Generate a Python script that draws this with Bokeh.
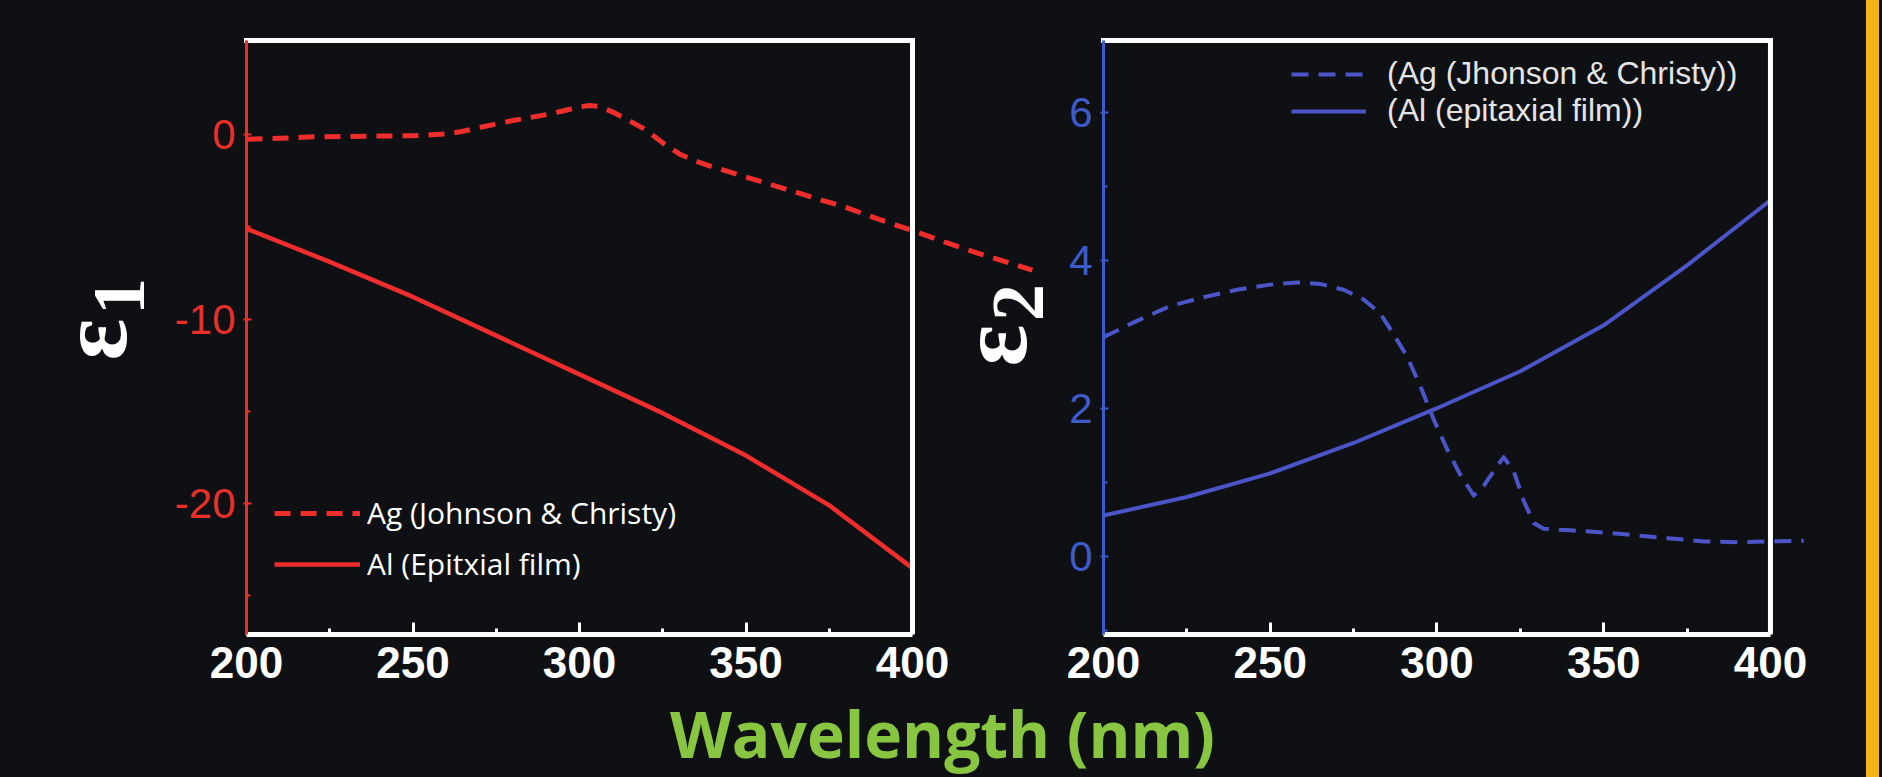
import math
from bokeh.plotting import figure
from bokeh.layouts import row, column
from bokeh.models import Range1d, LinearAxis, FixedTicker, Span, Legend, LegendItem, Label
from bokeh.embed import file_html
from bokeh.resources import INLINE

# ---------------- data ----------------
# epsilon_1 (left panel)
wl_ag1 = [200, 210, 220, 230, 240, 250, 260, 265, 270, 275, 280, 285, 290, 295, 300, 303, 306, 310, 315, 320,
          325, 330, 335, 340, 350, 360, 370, 380, 390, 400, 410, 420, 436]
eps1_ag = [-0.25, -0.2, -0.12, -0.1, -0.08, -0.06, 0.03, 0.18, 0.38, 0.58, 0.76, 0.92, 1.08, 1.28, 1.5, 1.58, 1.52,
           1.22, 0.75, 0.25, -0.45, -1.05, -1.45, -1.75, -2.3, -2.85, -3.4, -3.95, -4.6, -5.2, -5.85, -6.45, -7.35]
wl_al = [200, 225, 250, 275, 300, 325, 350, 375, 400]
eps1_al = [-5.1, -6.9, -8.8, -10.9, -13.0, -15.1, -17.4, -20.1, -23.5]

# epsilon_2 (right panel)
wl_ag2 = [200, 210, 220, 230, 240, 250, 258, 265, 272, 278, 283, 287, 291, 295, 299, 303, 307, 311, 314, 317,
          320, 323, 326, 329, 332, 340, 350, 360, 370, 380, 390, 400, 410]
eps2_ag = [2.96, 3.18, 3.38, 3.5, 3.6, 3.67, 3.70, 3.68, 3.6, 3.47, 3.28, 3.0, 2.7, 2.3, 1.85, 1.45, 1.1, 0.82,
           0.95, 1.15, 1.34, 1.15, 0.75, 0.45, 0.37, 0.35, 0.32, 0.28, 0.24, 0.2, 0.19, 0.2, 0.21]
eps2_al = [0.55, 0.8, 1.12, 1.53, 2.0, 2.5, 3.12, 3.93, 4.81]

x_ticks = [200, 250, 300, 350, 400]
x_minor = [225, 275, 325, 375]
e1_ticks = [-20, -10, 0]
e1_minor = [-25, -15, -5]
e2_ticks = [0, 2, 4, 6]
e2_minor = [-1, 1, 3, 5]

labels1 = ["Ag (Johnson & Christy)", "Al (Epitxial film)"]
labels2 = ["(Ag (Jhonson & Christy))", "(Al (epitaxial film))"]
x_title = "Wavelength (nm)"

# ---------------- style ----------------
BG = "#0e1014"
RED = "#f02d2d"
RED_AX = "#ea2f2a"
BLUE = "#4b55c8"
BLUE_AX = "#3e5bcc"
GREEN = "#88c541"
YELLOW = "#f3b416"
TICK_FONT = "Liberation Sans"
SYM_FONT = "Liberation Serif"
H_TOP = 700
FRAME_BOTTOM = 634   # frame bottom (px from top) shared by the aligned panels


def style_frame(p, ax_color, yt, ym):
    p.grid.visible = False
    ax = p.xaxis[0]
    ax.ticker = FixedTicker(ticks=x_ticks, minor_ticks=x_minor)
    ax.bounds = (200, 400)
    ax.axis_line_color = "white"
    ax.axis_line_width = 5
    ax.major_tick_line_color = "white"
    ax.major_tick_line_width = 3
    ax.major_tick_in = 12
    ax.major_tick_out = 0
    ax.minor_tick_line_color = "white"
    ax.minor_tick_line_width = 3
    ax.minor_tick_in = 6
    ax.minor_tick_out = 0
    ax.major_label_text_color = "white"
    ax.major_label_text_font = TICK_FONT
    ax.major_label_text_font_style = "bold"
    ax.major_label_text_font_size = "44px"
    ax.major_label_standoff = 12

    ay = p.yaxis[0]
    ay.ticker = FixedTicker(ticks=yt, minor_ticks=ym)
    ay.major_label_overrides = {t: str(t) for t in yt}
    ay.axis_line_color = ax_color
    ay.axis_line_width = 3
    ay.major_tick_line_color = ax_color
    ay.major_tick_line_width = 2
    ay.major_tick_in = 5
    ay.major_tick_out = 3
    ay.minor_tick_line_color = ax_color
    ay.minor_tick_line_width = 2
    ay.minor_tick_in = 4
    ay.minor_tick_out = 0
    ay.major_label_text_color = ax_color
    ay.major_label_text_font = TICK_FONT
    ay.major_label_text_font_size = "42px"
    ay.major_label_standoff = 8

    top = LinearAxis(ticker=FixedTicker(ticks=[]), bounds=(200, 400), axis_line_color="white",
                     axis_line_width=5, axis_line_cap="square", major_tick_line_color=None,
                     minor_tick_line_color=None, major_label_text_font_size="0px")
    p.add_layout(top, "above")
    p.add_layout(Span(location=400, dimension="height", line_color="white", line_width=5))


def sym(p, x, y, t, size):
    p.add_layout(Label(x=x, y=y, x_units="screen", y_units="screen", text=t, angle=math.pi / 2,
                       text_font=SYM_FONT, text_font_style="bold", text_font_size=size,
                       text_color="white", text_align="center", text_baseline="middle"))


# ---------------- strip holding the epsilon_1 symbol ----------------
p0 = figure(width=170, height=H_TOP, x_range=Range1d(0, 1), y_range=Range1d(0, 1),
            output_backend="svg", toolbar_location=None, x_axis_location=None, y_axis_location=None,
            min_border=0, background_fill_color=BG, border_fill_color=BG, outline_line_color=None)
p0.grid.visible = False
sym(p0, 92, FRAME_BOTTOM - 339, "\u03b5", "98px")
sym(p0, 119, FRAME_BOTTOM - 296, "1", "74px")

# ---------------- left panel (epsilon 1) ----------------
p1 = figure(width=880, height=H_TOP, x_range=Range1d(200, 441.44), y_range=Range1d(-27.1, 5.1),
            output_backend="svg", toolbar_location=None,
            min_border_left=76, min_border_right=0, min_border_top=40, min_border_bottom=66,
            background_fill_color=BG, border_fill_color=BG, outline_line_color=None)
style_frame(p1, RED_AX, e1_ticks, e1_minor)

r1a = p1.line(wl_ag1, eps1_ag, line_color=RED, line_width=5, line_dash="16 10", line_join="round")
r1b = p1.line(wl_al, eps1_al, line_color=RED, line_width=4.5, line_join="round")

leg1 = Legend(items=[LegendItem(label=labels1[0], renderers=[r1a]),
                     LegendItem(label=labels1[1], renderers=[r1b])],
              location=(28, 50), glyph_width=86, glyph_height=36, label_standoff=7, spacing=10,
              padding=0, margin=0, border_line_color=None, background_fill_alpha=0,
              label_text_color="white", label_text_font="Open Sans", label_text_font_size="30px")
p1.add_layout(leg1)

# epsilon_2 symbol sits in the gap between the panels (inside the left frame)
sym(p1, 1002 - 246 - 10, FRAME_BOTTOM - 345, "\u03b5", "98px")
sym(p1, 1018 - 246, FRAME_BOTTOM - 302, "2", "74px")

# ---------------- right panel (epsilon 2) ----------------
p2 = figure(width=816, height=H_TOP, x_range=Range1d(200, 428.8), y_range=Range1d(-1.058, 6.969),
            output_backend="svg", toolbar_location=None,
            min_border_left=53, min_border_right=0, min_border_top=40, min_border_bottom=66,
            background_fill_color=BG, border_fill_color=BG, outline_line_color=None)
style_frame(p2, BLUE_AX, e2_ticks, e2_minor)

r2a = p2.line(wl_ag2, eps2_ag, line_color=BLUE, line_width=4, line_dash="17 10", line_join="round")
r2b = p2.line(wl_al, eps2_al, line_color=BLUE, line_width=4, line_join="round")

leg2 = Legend(items=[LegendItem(label=labels2[0], renderers=[r2a]),
                     LegendItem(label=labels2[1], renderers=[r2b])],
              location=(188, 505), glyph_width=75, glyph_height=30, label_standoff=21, spacing=0,
              padding=0, margin=0, border_line_color=None, background_fill_alpha=0,
              label_text_color="#e4e4e4", label_text_font="Liberation Sans", label_text_font_size="32px")
p2.add_layout(leg2)

# ---------------- common x title ----------------
p3 = figure(width=1866, height=76, x_range=Range1d(0, 1), y_range=Range1d(0, 1),
            output_backend="svg", toolbar_location=None, x_axis_location=None, y_axis_location=None,
            min_border=0, background_fill_color=BG, border_fill_color=BG, outline_line_color=None)
p3.grid.visible = False
p3.add_layout(Label(x=942, y=43, x_units="screen", y_units="screen", text=x_title,
                    text_align="center", text_baseline="middle", text_font="Open Sans",
                    text_font_style="bold", text_font_size="64px", text_color=GREEN))

layout = column(row(p0, p1, p2, spacing=0), p3, spacing=0)

html = file_html(layout, INLINE, title="Dielectric functions")
css = ("<style>html,body{background-color:%s;background-image:linear-gradient(90deg,%s 0px,%s 1866px,"
       "%s 1866px,%s 1879px,%s 1879px);background-repeat:no-repeat;background-attachment:fixed;}</style>"
       % (BG, BG, BG, YELLOW, YELLOW, BG))
html = html.replace("</head>", css + "</head>", 1)
open("out.html", "w").write(html)
